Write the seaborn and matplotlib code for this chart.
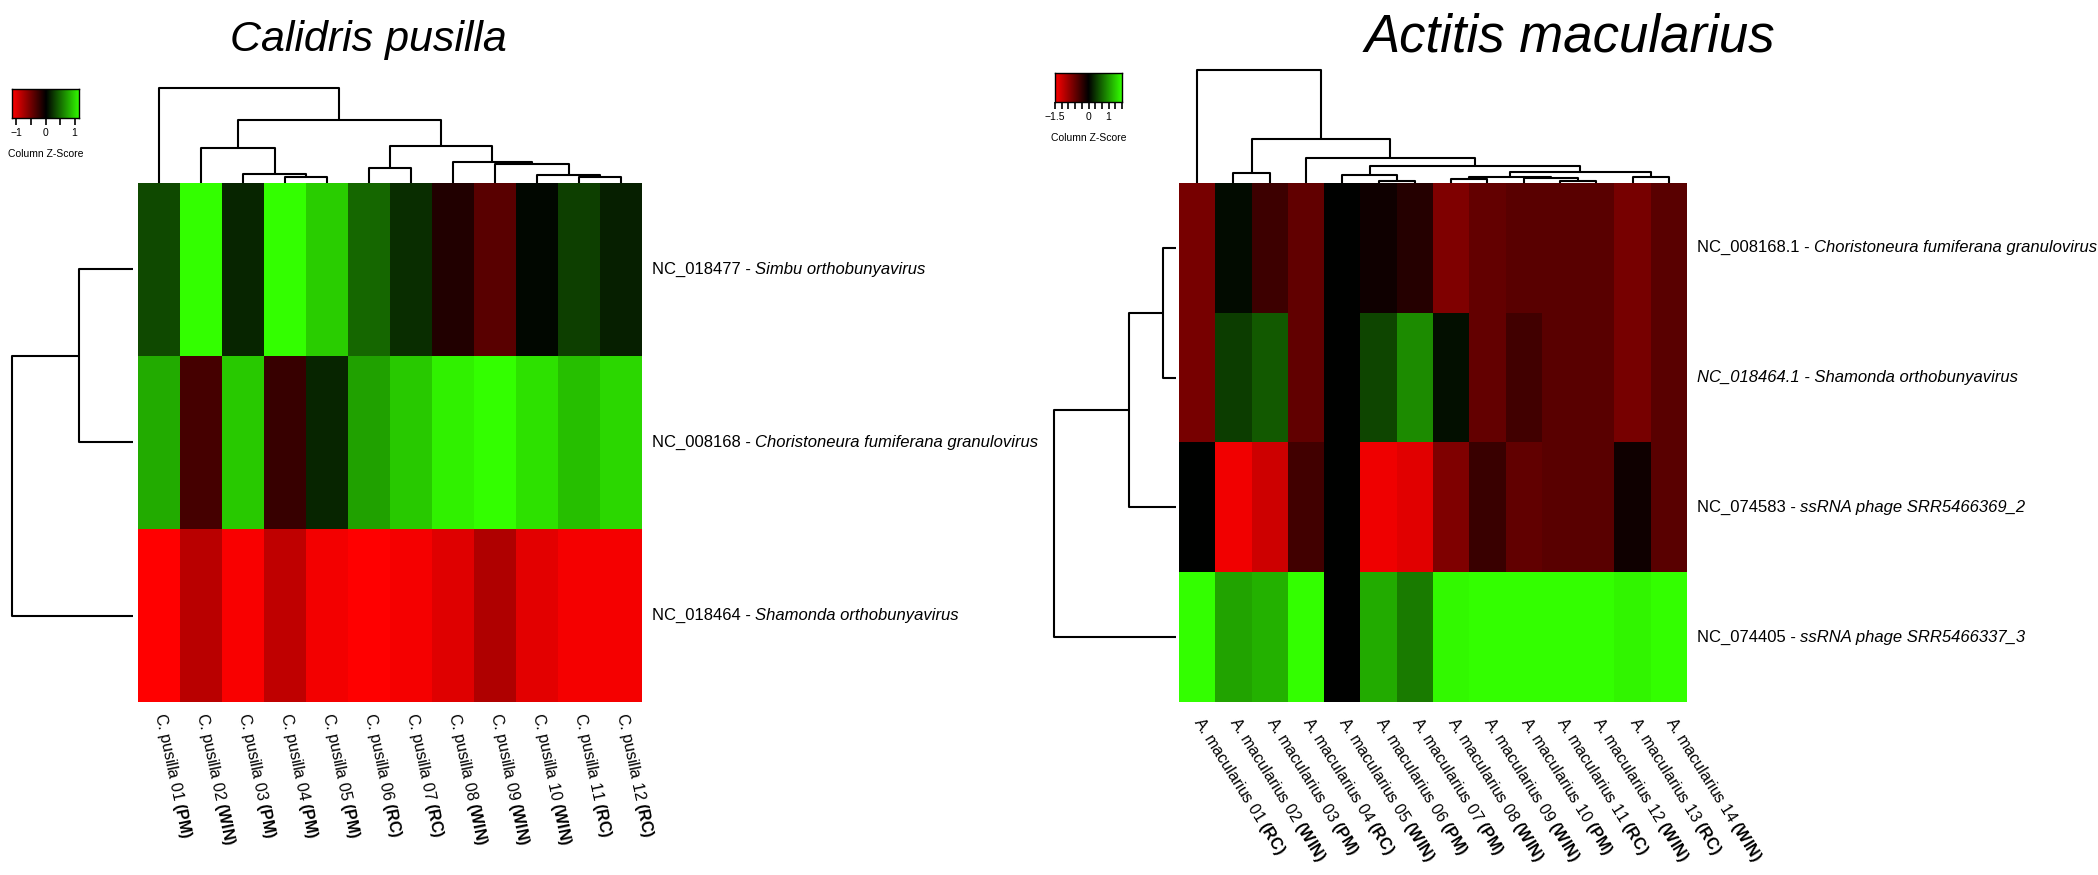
import numpy as np
import pandas as pd
import matplotlib
matplotlib.use("Agg")
import matplotlib.pyplot as plt
from matplotlib.colors import LinearSegmentedColormap
import seaborn as sns

# ---------------- data ----------------
# column z-scores, columns already in dendrogram order
cp_samples = ["01", "02", "03", "04", "05", "06", "07", "08", "09", "10", "11", "12"]
cp_sites = ["PM", "WIN", "PM", "PM", "PM", "RC", "RC", "WIN", "WIN", "WIN", "RC", "RC"]
cp_row_ids = ["NC_018477 - ", "NC_008168 - ", "NC_018464 - "]
cp_row_names = ["Simbu orthobunyavirus", "Choristoneura fumiferana granulovirus",
                "Shamonda orthobunyavirus"]
cp_z = [
    [0.33, 1.15, 0.17, 1.15, 0.92, 0.46, 0.20, -0.15, -0.40, 0.03, 0.28, 0.14],
    [0.77, -0.31, 0.90, -0.25, 0.17, 0.72, 0.90, 1.08, 1.15, 1.01, 0.86, 0.97],
    [-1.15, -0.83, -1.12, -0.86, -1.09, -1.15, -1.10, -1.00, -0.79, -1.02, -1.10, -1.10],
]
# merges (a, b, height); leaves 0..n-1, new clusters numbered n, n+1, ...
cp_col_merges = [(3, 4, 17), (2, 12, 28), (1, 13, 108), (5, 6, 45), (10, 11, 17),
                 (9, 16, 25), (8, 17, 58), (7, 18, 64), (15, 19, 113), (14, 20, 193),
                 (0, 21, 292)]
cp_row_merges = [(0, 1, 54), (2, 3, 121)]

am_samples = ["01", "02", "03", "04", "05", "06", "07", "08", "09", "10", "11", "12", "13", "14"]
am_sites = ["RC", "WIN", "PM", "RC", "WIN", "PM", "PM", "WIN", "WIN", "PM", "RC", "WIN", "RC", "WIN"]
am_row_ids = ["NC_008168.1 - ", "NC_018464.1 - Shamonda orthobunyavirus",
              "NC_074583 - ", "NC_074405 - "]
am_row_names = ["Choristoneura fumiferana granulovirus", "",
                "ssRNA phage SRR5466369_2", "ssRNA phage SRR5466337_3"]
am_row_all_italic = [False, True, False, False]
am_z = [
    [-0.70, 0.06, -0.36, -0.57, 0.00, -0.09, -0.22, -0.75, -0.58, -0.52, -0.52, -0.52, -0.70, -0.52],
    [-0.70, 0.36, 0.52, -0.57, 0.00, 0.40, 0.82, 0.09, -0.58, -0.38, -0.52, -0.52, -0.70, -0.52],
    [0.00, -1.41, -1.20, -0.38, 0.00, -1.40, -1.32, -0.75, -0.33, -0.57, -0.52, -0.52, -0.09, -0.52],
    [1.50, 0.95, 1.04, 1.50, 0.00, 1.00, 0.72, 1.46, 1.50, 1.50, 1.50, 1.50, 1.43, 1.50],
]
am_col_merges = [(1, 2, 31), (5, 6, 6), (4, 15, 24), (7, 8, 11), (10, 11, 5), (9, 18, 14),
                 (17, 19, 18), (12, 13, 18), (20, 21, 33), (16, 22, 50), (3, 23, 76),
                 (14, 24, 132), (0, 25, 342)]
am_row_merges = [(0, 1, 13), (2, 4, 47), (3, 5, 122)]

# ---------------- style ----------------
sns.set_style("white")
plt.rcParams["font.family"] = ["Liberation Sans", "DejaVu Sans"]
plt.rcParams["mathtext.fontset"] = "custom"
plt.rcParams["mathtext.rm"] = "Liberation Sans"
plt.rcParams["mathtext.it"] = "Liberation Sans:italic"
plt.rcParams["mathtext.bf"] = "Liberation Sans:bold"
plt.rcParams["text.color"] = "black"
plt.rcParams["xtick.color"] = "black"
plt.rcParams["ytick.color"] = "black"
plt.rcParams["axes.labelcolor"] = "black"

cmap = LinearSegmentedColormap.from_list("rg", ["#ff0000", "#000000", "#33ff00"])

W, H = 2098, 875
fig = plt.figure(figsize=(W / 100, H / 100), dpi=100)


def rect(x0, y0, x1, y1):
    return [x0 / W, 1 - y1 / H, (x1 - x0) / W, (y1 - y0) / H]


def draw_dendro(ax, merges, n, orient):
    pos = {i: i + 0.5 for i in range(n)}
    hgt = {i: 0.0 for i in range(n)}
    for k, (a, b, h) in enumerate(merges):
        xs = [pos[a], pos[a], pos[b], pos[b]]
        ys = [hgt[a], h, h, hgt[b]]
        if orient == "top":
            ax.plot(xs, ys, color="black", lw=1.5, clip_on=False, solid_capstyle="butt")
        else:
            ax.plot(ys, xs, color="black", lw=1.5, clip_on=False, solid_capstyle="butt")
        pos[n + k] = (pos[a] + pos[b]) / 2
        hgt[n + k] = h
    top = merges[-1][2]
    if orient == "top":
        ax.set_xlim(0, n)
        ax.set_ylim(0, top)
    else:
        ax.set_xlim(top, 0)
        ax.set_ylim(n, 0)
    ax.axis("off")


def draw_key(ax, vmax, ticks, labels, lab_pad):
    grad = np.linspace(-vmax, vmax, 256)[None, :]
    ax.imshow(grad, cmap=cmap, aspect="auto", extent=[-vmax, vmax, 0, 1],
              vmin=-vmax, vmax=vmax)
    ax.set_xlim(-vmax, vmax)
    ax.set_yticks([])
    ax.set_xticks(ticks)
    ax.set_xticklabels(labels, fontsize=7.5)
    ax.tick_params(axis="x", direction="out", length=5, width=1.2, pad=2,
                   bottom=True, color="black")
    for s in ax.spines.values():
        s.set_visible(True)
        s.set_color("black")
        s.set_linewidth(1)
    ax.text(0.5, lab_pad, "Column Z-Score", transform=ax.transAxes,
            ha="center", va="center", fontsize=7.5)


def draw_panel(z, samples, sites, prefix, row_ids, row_names, all_italic,
               col_merges, row_merges, box, coldend_top, rowdend_left, rowdend_right,
               rot, xpad, label_off, vmax):
    x0, y0, x1, y1 = box
    n_rows, n_cols = len(z), len(z[0])
    df = pd.DataFrame(z, index=row_ids,
                      columns=[f"{prefix} {s}" for s in samples])
    col_labels = [f"{prefix} {s} " + r"$\bf{(" + t + ")}$" for s, t in zip(samples, sites)]

    ax = fig.add_axes(rect(x0, y0, x1, y1))
    sns.heatmap(df, ax=ax, cmap=cmap, vmin=-vmax, vmax=vmax, cbar=False,
                xticklabels=col_labels, yticklabels=False)
    ax.set_xlabel("")
    ax.set_ylabel("")
    ax.tick_params(axis="x", length=0, pad=xpad)
    for t in ax.get_xticklabels():
        t.set_rotation(rot)
        t.set_rotation_mode("anchor")
        t.set_ha("left")
        t.set_va("center")
        t.set_fontsize(11.5)

    for i in range(n_rows):
        t1 = ax.annotate(row_ids[i], xy=(1, i + 0.5), xycoords=("axes fraction", "data"),
                         xytext=(label_off, 0), textcoords="offset points",
                         va="center", ha="left", fontsize=12,
                         style="italic" if all_italic[i] else "normal")
        if row_names[i]:
            ax.annotate(row_names[i], xy=(1, 0), xycoords=t1, va="bottom", ha="left",
                        fontsize=12, style="italic")

    axc = fig.add_axes(rect(x0, coldend_top, x1, y0))
    draw_dendro(axc, col_merges, n_cols, "top")
    axr = fig.add_axes(rect(rowdend_left, y0, rowdend_right, y1))
    draw_dendro(axr, row_merges, n_rows, "left")


draw_panel(cp_z, cp_samples, cp_sites, "C. pusilla", cp_row_ids, cp_row_names,
           [False] * 3, cp_col_merges, cp_row_merges,
           (138, 183, 642, 702), 88, 12, 133, -78, 8, 7, 1.15)
draw_panel(am_z, am_samples, am_sites, "A. macularius", am_row_ids, am_row_names,
           am_row_all_italic, am_col_merges, am_row_merges,
           (1179, 183, 1687, 702), 70, 1054, 1176, -58, 12, 7, 1.5)

# colour keys
axk1 = fig.add_axes(rect(12, 89, 79, 118))
draw_key(axk1, 1.15, [-1, -0.5, 0, 0.5, 1], ["\u22121", "", "0", "", "1"], -1.25)
axk2 = fig.add_axes(rect(1055, 73, 1122, 102))
am_key_ticks = [-1.5, -1.2, -0.9, -0.6, -0.3, 0, 0.3, 0.6, 0.9, 1.2, 1.5]
am_key_labels = ["\u22121.5", "", "", "", "", "0", "", "", "1", "", ""]
draw_key(axk2, 1.5, am_key_ticks, am_key_labels, -1.25)

fig.text(368, H - 40, "Calidris pusilla", transform=None, fontsize=31,
         style="italic", ha="center", va="center")
fig.text(1570, H - 38, "Actitis macularius", transform=None, fontsize=38,
         style="italic", ha="center", va="center")

fig.savefig("out.png", dpi=100, facecolor="white")
